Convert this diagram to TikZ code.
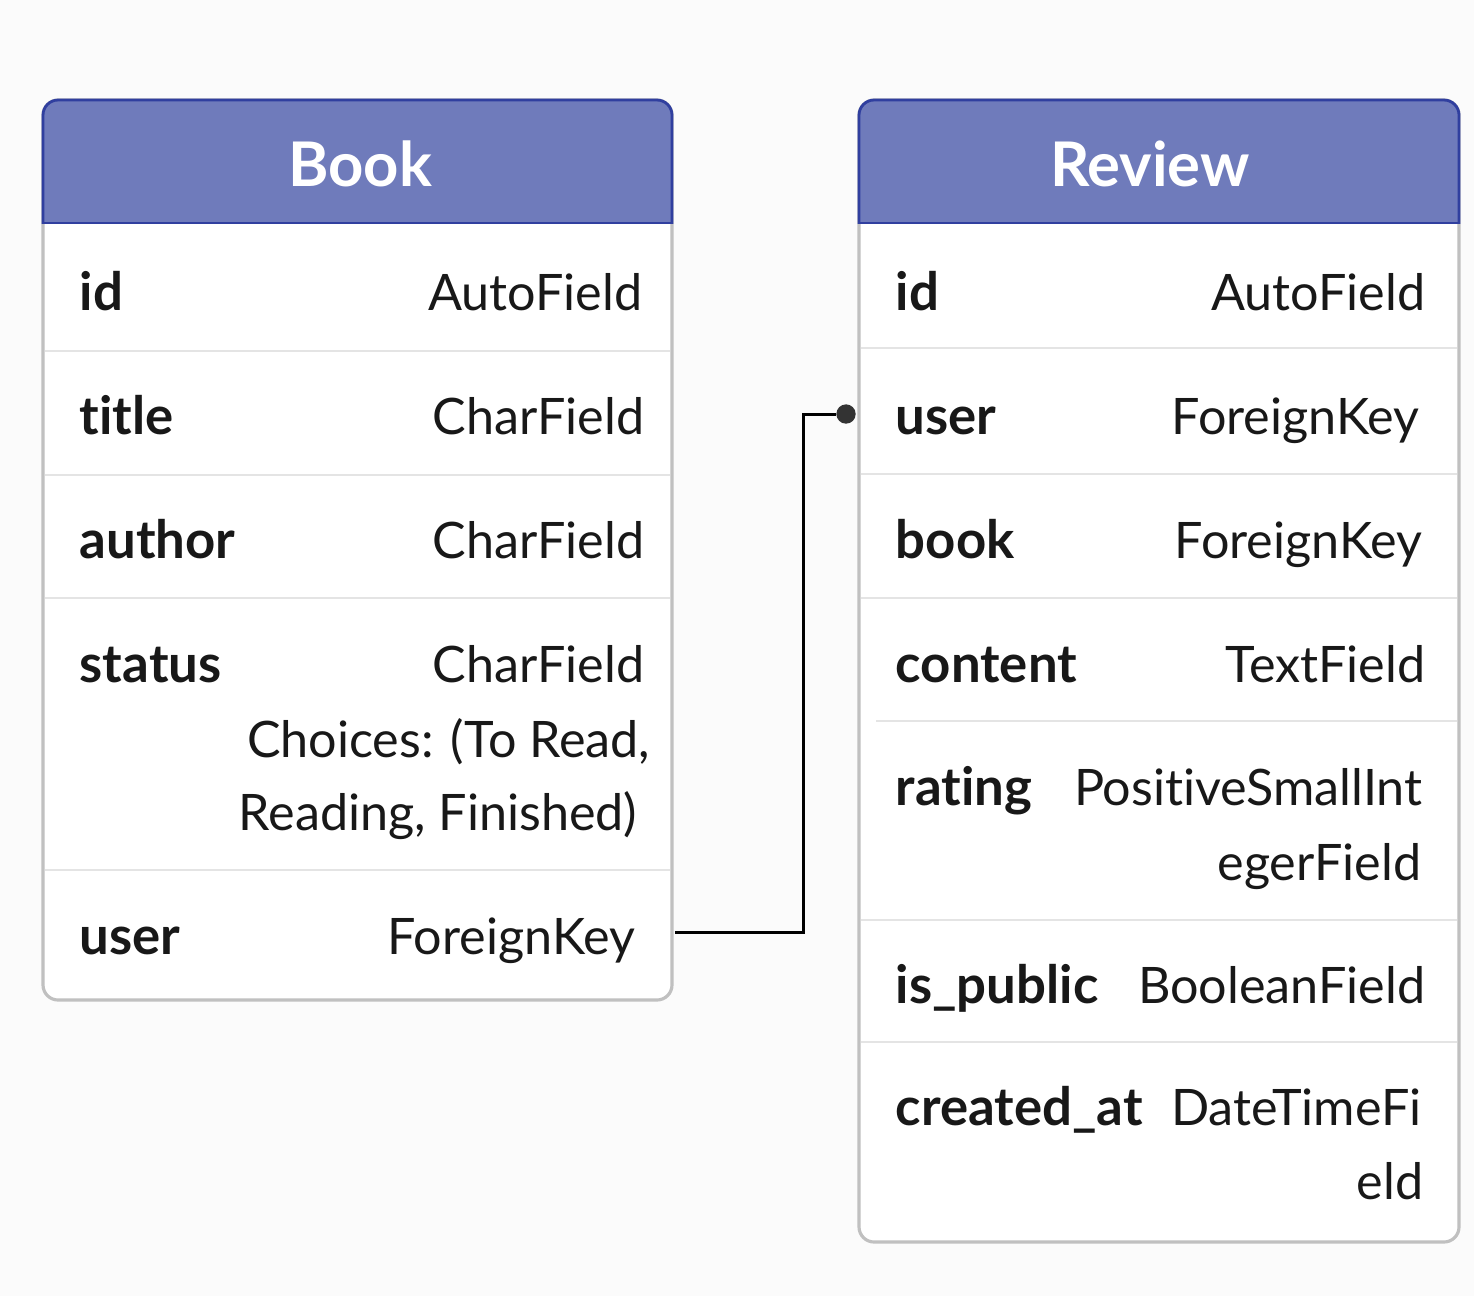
\documentclass[tikz,border=0pt]{standalone}
\usepackage{fontspec}
\setmainfont{Lato}[Ligatures=NoCommon]
\definecolor{headblue}{RGB}{111,123,187}
\definecolor{headedge}{RGB}{48,63,159}
\definecolor{boxedge}{RGB}{192,192,192}
\definecolor{rowline}{RGB}{228,228,228}
\definecolor{inkdark}{RGB}{24,24,24}
\definecolor{paper}{RGB}{251,251,251}
\tikzset{
  tablebox/.style={draw=boxedge,line width=0.9pt,fill=white,rounded corners=4.3pt},
  headbar/.style={fill=headblue,draw=headedge,line width=0.8pt,rounded corners=4.3pt},
  headtext/.style={text=white,font=\fontsize{17.5}{21}\selectfont\bfseries,inner sep=0pt},
  fname/.style={anchor=base west,text=inkdark,inner sep=0pt,font=\fontsize{15}{18}\selectfont\bfseries},
  ftype/.style={anchor=base east,text=inkdark,inner sep=0pt,font=\fontsize{14.3}{17}\selectfont},
  sepline/.style={draw=rowline,line width=0.7pt},
  link/.style={draw=black,line width=0.85pt},
  linkdot/.style={circle,fill=black!80,inner sep=0pt,minimum size=5.5pt}
}

\begin{document}
\begin{tikzpicture}[x=0.01cm,y=-0.01cm]

    \def\bl{43}   % Book left
    \def\br{672}  % Book right
    \def\rl{859}  % Review left
    \def\rr{1459} % Review right

    % page
    \fill[paper] (0,0) rectangle (1474,1296);
    \useasboundingbox (0,0) rectangle (1474,1296);

    % boxes
    \path[tablebox] (\bl,100) rectangle (\br,1000);
    \path[tablebox] (\rl,100) rectangle (\rr,1242);

    % headers
    \begin{scope}
      \clip (0,0) rectangle (1474,223);
      \path[headbar] (\bl,100) rectangle (\br,300);
      \path[headbar] (\rl,100) rectangle (\rr,300);
    \end{scope}
    \draw[headedge,line width=0.8pt] (\bl,223) -- (\br,223);
    \draw[headedge,line width=0.8pt] (\rl,223) -- (\rr,223);
    \node[headtext] (bookhead) at (360,164) {Book};
    \node[headtext] (reviewhead) at (1150,164) {Review};

    % row lines
    \foreach \y in {351,475,598,870}
      \draw[sepline] (\bl+2,\y) -- (\br-2,\y);
    \foreach \y in {348,474,598,920,1042}
      \draw[sepline] (\rl+2,\y) -- (\rr-2,\y);
    \draw[sepline] (876,721) -- (\rr-2,721);

    % Book fields
    \node[fname] (bookid)      at (79,310) {id};
    \node[ftype] (bookidt)     at (643,310) {AutoField};
    \node[fname] (booktitle)   at (79,434) {title};
    \node[ftype] (booktitlet)  at (645,434) {CharField};
    \node[fname] (bookauthor)  at (79,558) {author};
    \node[ftype] (bookauthort) at (645,558) {CharField};
    \node[fname] (bookstatus)  at (79,682) {status};
    \node[ftype] (bookstatust) at (645,682) {CharField};
    \node[ftype] (bookchoiceA) at (651,757) {Choices: (To Read,};
    \node[ftype] (bookchoiceB) at (638,830) {Reading, Finished)};
    \node[fname] (bookuser)    at (79,954) {user};
    \node[ftype] (bookusert)   at (636,954) {ForeignKey};

    % Review fields
    \node[fname] (revid)       at (895,310) {id};
    \node[ftype] (revidt)      at (1426,310) {AutoField};
    \node[fname] (revuser)     at (895,434) {user};
    \node[ftype] (revusert)    at (1420,434) {ForeignKey};
    \node[fname] (revbook)     at (895,558) {book};
    \node[ftype] (revbookt)    at (1423,558) {ForeignKey};
    \node[fname] (revcontent)  at (895,682) {content};
    \node[ftype] (revcontentt) at (1426,682) {TextField};
    \node[fname] (revrating)   at (895,805) {rating};
    \node[ftype] (revratingA)  at (1423,805) {PositiveSmallInt};
    \node[ftype] (revratingB)  at (1422,880) {egerField};
    \node[fname] (revpublic)   at (895,1003) {is\_public};
    \node[ftype] (revpublict)  at (1426,1003) {BooleanField};
    \node[fname] (revcreated)  at (895,1125) {created\_at};
    \node[ftype] (revcreatedA) at (1422,1125) {DateTimeFi};
    \node[ftype] (revcreatedB) at (1424,1199) {eld};

    % link
    \coordinate (bookuserport) at (675,932);
    \node[linkdot] (revuserdot) at (846,414) {};
    \draw[link] (bookuserport) -- ++(128,0) |- (revuserdot);

\end{tikzpicture}
\end{document}
